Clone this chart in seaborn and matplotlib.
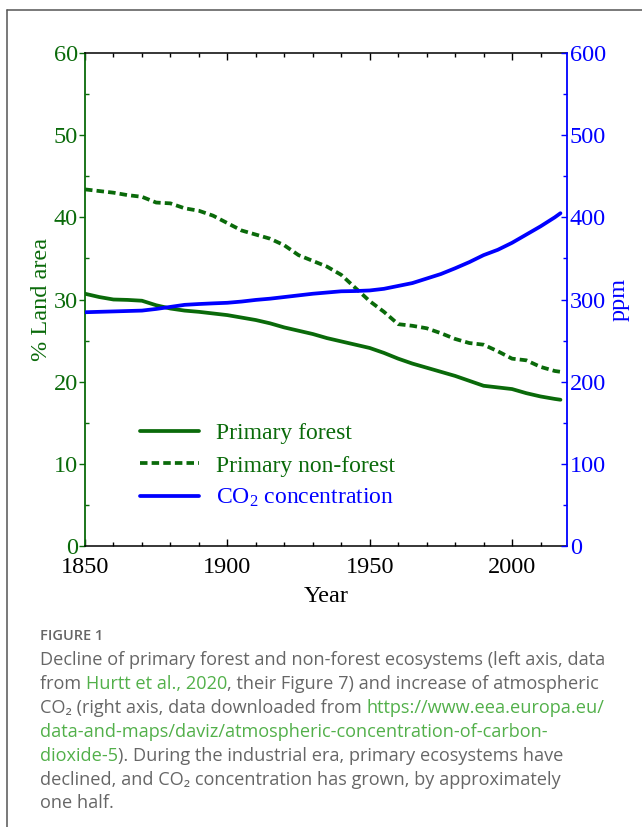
import matplotlib
matplotlib.use("Agg")
import matplotlib.pyplot as plt
import seaborn as sns
import pandas as pd
from matplotlib.ticker import MultipleLocator
from matplotlib.lines import Line2D
from matplotlib.transforms import IdentityTransform

# ---------------- data ----------------
years = [1850, 1855, 1860, 1865, 1870, 1875, 1880, 1885, 1890, 1895, 1900,
         1905, 1910, 1915, 1920, 1925, 1930, 1935, 1940, 1945, 1950, 1955,
         1960, 1965, 1970, 1975, 1980, 1985, 1990, 1995, 2000, 2005, 2010,
         2015, 2017]
primary_forest = [30.7, 30.3, 30.0, 29.95, 29.85, 29.3, 28.9, 28.65, 28.5, 28.3, 28.1,
                  27.8, 27.5, 27.1, 26.6, 26.2, 25.8, 25.3, 24.9, 24.5, 24.1, 23.5,
                  22.8, 22.2, 21.7, 21.2, 20.7, 20.1, 19.5, 19.3, 19.1, 18.6, 18.2,
                  17.9, 17.8]
primary_nonforest = [43.4, 43.2, 43.0, 42.7, 42.5, 41.8, 41.7, 41.1, 40.8, 40.2, 39.3,
                     38.4, 37.9, 37.4, 36.6, 35.4, 34.7, 34.0, 33.0, 31.4, 29.8, 28.5,
                     27.0, 26.8, 26.5, 25.9, 25.2, 24.7, 24.5, 23.7, 22.8, 22.6, 21.8,
                     21.3, 21.2]
co2_ppm = [284.5, 285.0, 285.5, 286.0, 286.5, 288.5, 291.0, 293.5, 294.5, 295.3, 296.0,
           297.5, 299.5, 301.0, 303.0, 305.0, 307.0, 308.5, 310.0, 310.3, 311.0, 313.0,
           316.5, 320.0, 325.5, 331.0, 338.0, 345.5, 354.0, 360.5, 369.0, 379.0, 389.0,
           400.0, 405.0]

series_labels = ["Primary forest", "Primary non-forest", "CO$_2$ concentration"]
x_ticks = [1850, 1900, 1950, 2000]

df = pd.DataFrame({"Year": years, "forest": primary_forest,
                   "nonforest": primary_nonforest, "co2": co2_ppm})

# ---------------- style ----------------
sns.set_theme(style="ticks")
plt.rcParams["font.family"] = ["Liberation Serif", "DejaVu Serif"]
plt.rcParams["mathtext.fontset"] = "custom"
plt.rcParams["mathtext.rm"] = "Liberation Serif"
plt.rcParams["mathtext.it"] = "Liberation Serif:italic"

GREEN = "#0a6a0a"
BLUE = "#0000ff"
TFS = 17.5

fig = plt.figure(figsize=(6.42, 8.27), dpi=100)
fig.patch.set_facecolor("white")
ax = fig.add_axes([85 / 642, 1 - 546 / 827, 482 / 642, 493 / 827])
ax2 = ax.twinx()

sns.lineplot(data=df, x="Year", y="forest", ax=ax, color=GREEN, lw=2.7,
             label=series_labels[0], legend=False)
sns.lineplot(data=df, x="Year", y="nonforest", ax=ax, color=GREEN, lw=2.7,
             dashes=False, label=series_labels[1], legend=False)
ax.lines[1].set_dashes((2.0, 1.1))
sns.lineplot(data=df, x="Year", y="co2", ax=ax2, color=BLUE, lw=2.7,
             label=series_labels[2], legend=False)

ax.set_xlim(1850, 2019.3)
ax.set_ylim(0, 60)
ax2.set_ylim(0, 600)
ax.set_xticks(x_ticks)
ax.xaxis.set_minor_locator(MultipleLocator(10))
ax.yaxis.set_major_locator(MultipleLocator(10))
ax.yaxis.set_minor_locator(MultipleLocator(5))
ax2.yaxis.set_major_locator(MultipleLocator(100))
ax2.yaxis.set_minor_locator(MultipleLocator(50))

for sp in ["top", "bottom"]:
    ax.spines[sp].set_color("black")
    ax.spines[sp].set_linewidth(1.1)
ax.spines["left"].set_color(GREEN)
ax.spines["left"].set_linewidth(1.3)
ax2.spines["right"].set_color(BLUE)
ax2.spines["right"].set_linewidth(1.3)
for sp in ["top", "bottom", "left"]:
    ax2.spines[sp].set_visible(False)
ax.spines["right"].set_visible(False)

ax.tick_params(axis="x", which="both", direction="in", top=True, bottom=True,
               colors="black", labelsize=TFS, pad=8)
ax.tick_params(axis="x", which="major", length=5, width=1.0)
ax.tick_params(axis="x", which="minor", length=3, width=1.0)
ax.tick_params(axis="y", which="major", direction="out", length=4, width=1.0,
               colors=GREEN, labelsize=TFS, pad=1)
ax.tick_params(axis="y", which="minor", direction="in", length=3, width=1.0, colors=GREEN)
ax2.tick_params(axis="y", which="major", direction="in", length=4, width=1.0,
                colors=BLUE, labelsize=TFS, pad=2)
ax2.tick_params(axis="y", which="minor", direction="in", length=3, width=1.0, colors=BLUE)

ax.set_xlabel("Year", fontsize=TFS, color="black", labelpad=6)
ax.set_ylabel("% Land area", fontsize=TFS, color=GREEN, labelpad=1)
ax2.set_ylabel("ppm", fontsize=TFS, color=BLUE, labelpad=2)

handles = [ax.lines[0], ax.lines[1], ax2.lines[0]]
leg = ax.legend(handles, series_labels, loc="center left",
                bbox_to_anchor=(0.115, 0.162), frameon=False, fontsize=17,
                handlelength=2.5, handletextpad=0.7, labelspacing=0.45,
                borderpad=0, borderaxespad=0)
for txt, c in zip(leg.get_texts(), [GREEN, GREEN, BLUE]):
    txt.set_color(c)

# frame of the figure panel
fig.add_artist(Line2D([7 / 642, 7 / 642], [0, 1 - 10 / 827], color="#555555", lw=1.1,
                      transform=fig.transFigure))
fig.add_artist(Line2D([7 / 642, 1], [1 - 10 / 827, 1 - 10 / 827], color="#555555", lw=1.1,
                      transform=fig.transFigure))

# ---------------- caption ----------------
GRAY = "#666666"
LINK = "#52b04a"
CAP_FAM = ["Open Sans", "DejaVu Sans"]
CFS = 13.1
H = 827

fig.text(40, H - 636, "FIGURE 1", transform=IdentityTransform(), fontsize=10.5,
         color=GRAY, family=CAP_FAM, fontweight="semibold", va="center")

cap_lines = [
    [("Decline of primary forest and non-forest ecosystems (left axis, data", GRAY)],
    [("from ", GRAY), ("Hurtt et al., 2020", LINK), (", their Figure 7) and increase of atmospheric", GRAY)],
    [("CO\u2082 (right axis, data downloaded from ", GRAY), ("https://www.eea.europa.eu/", LINK)],
    [("data-and-maps/daviz/atmospheric-concentration-of-carbon-", LINK)],
    [("dioxide-5", LINK), ("). During the industrial era, primary ecosystems have", GRAY)],
    [("declined, and CO\u2082 concentration has grown, by approximately", GRAY)],
    [("one half.", GRAY)],
]
cap_y = [660, 684, 708, 732, 756, 780, 803]

renderer = fig.canvas.get_renderer()


def text_width(s):
    t = fig.text(0, 0, s, transform=IdentityTransform(), fontsize=CFS, family=CAP_FAM)
    w = t.get_window_extent(renderer).width
    t.remove()
    return w


for pieces, yy in zip(cap_lines, cap_y):
    prefix = ""
    for s, c in pieces:
        if prefix:
            off = text_width(prefix + s) - text_width(s)
        else:
            off = 0
        fig.text(40 + off, H - yy, s, transform=IdentityTransform(), fontsize=CFS,
                 color=c, family=CAP_FAM, va="center")
        prefix += s

fig.savefig("out.png", dpi=100)
